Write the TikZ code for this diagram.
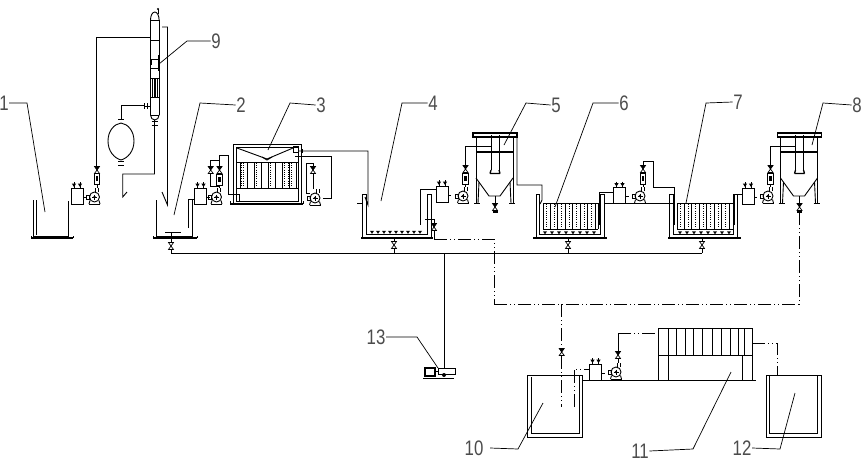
\documentclass[tikz,border=0pt]{standalone}
\usepackage{fontspec}
\setmainfont{Liberation Sans}
\begin{document}
\begin{tikzpicture}[x=1pt,y=-1pt,line width=0.9pt,line join=miter,
  lab/.style={font=\fontsize{21}{21}\selectfont,inner sep=0.5pt,xscale=0.8,text=black!70},
  lead/.style={line width=0.7pt},
  dd/.style={line width=0.8pt,dash pattern=on 13pt off 3pt on 1pt off 3pt on 1pt off 3pt},
  dotsv/.style={line width=1pt,dash pattern=on 1pt off 1.2pt},
  valvep/.pic={\draw[line width=0.7pt,fill=white] (-2.5,-3.5)--(2.5,-3.5)--(-2.5,3.5)--(2.5,3.5)--cycle;},
  valvef/.pic={\draw[line width=0.7pt,fill=white] (-2.5,-3.5)--(2.5,-3.5)--(-2.5,3.5)--(2.5,3.5)--cycle;
     \fill (-2.5,-3.5)--(2.5,-3.5)--(0,0)--cycle;},
  pumpp/.pic={\draw (0,0) circle (5);
     \draw[line width=0.6pt] (-2.5,0)--(2.5,0) (0,-2.5)--(0,2.5);
     \fill (0,0) circle (1.3);
     \draw (-8,-2) rectangle (-5,2);
     \draw (-4.5,3.5)--(-5.5,7) (4.5,3.5)--(5.5,7);
     \draw[line width=1.3pt] (-5.5,7.3)--(5.5,7.3);
     \draw (1,-5)--(1,-9) (4,-5)--(4,-9);},
  boxp/.pic={\draw (-6,-8) rectangle (6,8);
     \foreach \q in {-3,3}{\draw (\q,-14)--(\q,-8);
       \fill (\q-2.2,-12.5)--(\q+2.2,-12.5)--(\q,-9)--cycle;}
     \draw (6,1)--(9,1);},
  fmp/.pic={\draw (-2.7,-5.5) rectangle (2.7,5.5);
     \fill (-1.2,-2.5) rectangle (1.2,2);},
  nozzle/.pic={\fill (-2,-1.2)--(2,-1.2)--(0,1.8)--cycle;},
  clarp/.pic={
     \draw[line width=1.2pt] (-22,-37) rectangle (22,-33);
     \draw (-19,-33)--(-19,33) (18,-33)--(18,33);
     \draw[line width=1.1pt] (-19,-18)--(18,-18);
     \draw (-4,-35)--(-4,0) (4,-35)--(4,0);
     \draw[line width=1.3pt] (-5,3.5)--(5,3.5) (-4,0)--(-5,3.5) (4,0)--(5,3.5);
     \draw (-19,8)--(-6,26)--(5,26)--(18,8);
     \draw (-16,12)--(-17,33) (15,12)--(16,33);
     \draw (-21,33)--(-15,33) (14,33)--(20,33);
     \draw (0,26)--(0,33);
     \pic at (0,37) {valvef};
     \draw[line width=1.2pt] (-2.5,42)--(2.5,42);}
]
\useasboundingbox (0,0) rectangle (864,464);
\fill[white] (0,0) rectangle (864,464);

% ---- tank 1
\draw (33,200)--(33,236.5)--(68,236.5)--(68,201);
\draw (36,200)--(36,235);
\draw[line width=1.2pt] (31,238)--(73,238);
\draw (31,236)--(31,238) (73,236)--(73,238);
\pic at (77,196) {boxp};
\pic at (94.5,197) {pumpp};
\pic at (97,178.5) {fmp};
\pic at (97,170) {valvef};
\draw (96.7,167)--(96.7,37)--(150.5,37);
\draw (97,184)--(97,188);

% ---- column 9
\draw (150.5,20) arc (180:360:4.3 and 8);
\draw (150.5,20)--(150.5,115) (159,20)--(159,115);
\draw (150.5,20)--(159,20);
\draw (150.5,115) arc (180:0:4.3 and 5);
\foreach \y in {40,59,68,78,97,115}{\draw (150.5,\y)--(159,\y);}
\foreach \x in {152.3,154,155.7,157.4}{\draw[line width=0.6pt] (\x,78)--(\x,97);}
\draw[line width=1.3pt] (151,60)--(151,65) (158.7,55)--(158.7,71);
\draw (158,14)--(158,9);
\fill (158,9) circle (1.2);
\draw (162,27)--(167.5,27)--(167.5,205)--(162,192);
\draw[line width=1pt] (151.5,121)--(157.5,121) (151.5,125)--(157.5,125);
\draw (154.5,125)--(154.5,174)--(122.7,174)--(122.7,197)--(127,192);
\draw (154.5,120)--(154.5,125);
\draw (108,141) .. controls (108,131) and (114,124) .. (121,123)
      .. controls (128,124) and (134,131) .. (134,141)
      .. controls (134,151) and (128,158) .. (121,160)
      .. controls (114,158) and (108,151) .. (108,141) -- cycle;
\draw[line width=1pt] (118,119)--(124,119) (118,161)--(124,161) (118,165)--(124,165);
\draw (121.7,119)--(121.7,105)--(144,105);
\draw[line width=1pt] (144,103)--(144,109) (147,103)--(147,109);
\draw (144,106)--(150.5,106);

% ---- tank 2
\draw (156.7,200)--(156.7,236)--(192.7,236)--(192.7,199);
\draw[line width=1.2pt] (153,238)--(197,238);
\draw (153,236)--(153,238) (197,236)--(197,238);
\draw (188,228)--(188,199)--(194,199);
\draw (165,232)--(181,232) (171,232)--(171,243);
\pic at (171,246) {valvep};
\draw (171,250)--(171,253)--(702,253);
\pic at (200.5,196) {boxp};
\pic at (216.5,197) {pumpp};
\pic at (219.5,179.5) {fmp};
\pic at (219.5,170) {valvef};
\pic at (210.7,170) {valvef};
\draw (219.5,173)--(219.5,174) (219.5,185)--(219.5,188);
\draw (219.5,167)--(219.5,155) (210.7,167)--(210.7,160)--(219.5,160);
\draw (210.7,173)--(210.7,186)--(219.5,186);
\draw (219.5,155)--(228,155)--(228,194)--(239,194)--(239,202);

% ---- tank 3
\draw (233,203)--(233,144)--(301,144)--(301,203);
\draw (236,201)--(236,147)--(298,147)--(298,201)--cycle;
\draw[line width=1.2pt] (230,204)--(303,204);
\draw (230,201)--(230,204) (303,201)--(303,204);
\draw[line width=1pt] (237,162)--(298,162) (237,188)--(298,188);
\foreach \x in {240,247,...,296}{\draw[line width=0.6pt] (\x,162)--(\x,188);}
\foreach \x in {241.5,243.5,254.5,256.5,268.5,270.5,282.5,284.5,288.5,291.5}{\draw[dotsv] (\x,163)--(\x,187);}
\draw (237,148)--(267,159)--(293,148);
\draw (262,157)--(267,160)--(272,157);
\draw (293,146.5) rectangle (298,152);
\draw (298,151)--(368,151)--(368,205)--(365,197);
\draw (302,149)--(302,153);
\draw (295,156)--(331,156)--(331,198)--(323,198);
\pic at (315,198) {pumpp};
\pic at (313,170) {valvef};
\draw (313,173)--(313,189) (313,167)--(313,163)--(306,163)--(306,193)--(310,193);

% ---- tank 4
\draw (362,238)--(362,194)--(366,194)--(366,234)--(427,234)--(427,194)--(431,194)--(431,238);
\draw[line width=1.2pt] (361,238)--(433,238);
\draw (357,203)--(362,203);
\foreach \x in {372,378,...,420}{\pic at (\x,232) {nozzle};}
\draw (420,225)--(420,189)--(436,189);
\draw (425,219)--(434,219)--(434,224);
\pic at (434,227) {valvef};
\draw (434,230)--(434,239);
\pic at (394,245) {valvep};
\draw (394,238)--(394,241) (394,249)--(394,253);
\pic at (442,194) {boxp};
\pic at (463,196) {pumpp};
\pic at (465.5,178.5) {fmp};
\pic at (465.5,169) {valvef};
\draw (465.5,166)--(465.5,146)--(491,146) (465.5,172)--(465.5,173) (465.5,184)--(465.5,187);

% ---- clarifier 5
\pic at (495,170) {clarp};
\draw (517,137)--(517,185)--(542,185)--(542,200)--(540,204);

% ---- tank 6
\draw (536,238)--(536,194)--(539,194)--(539,234)--(600,234)--(600,194)--(604,194)--(604,238);
\draw[line width=1.2pt] (533,238)--(607,238);
\draw[line width=1pt] (543,203)--(598,203) (543,229)--(598,229);
\draw (543,203)--(543,229) (598,203)--(598,229);
\foreach \x in {550,557.5,...,595}{\draw[line width=0.6pt] (\x,203)--(\x,229);}
\foreach \x in {546.5,554,561.5,569,576.5,584,591.5}{\draw[dotsv] (\x,204)--(\x,228);}
\foreach \x in {545,552,...,598}{\pic at (\x,232.5) {nozzle};}
\draw (599,225)--(599,192)--(613,192);
\pic at (568,245) {valvep};
\draw (568,238)--(568,241) (568,249)--(568,253);
\pic at (619.5,195.5) {boxp};
\pic at (640,196) {pumpp};
\pic at (643,178.5) {fmp};
\pic at (643,169) {valvef};
\draw (604,203)--(674,203);
\draw (643,166)--(643,161)--(653,161)--(653,187)--(674,187)--(674,225);
\draw (643,172)--(643,173) (643,184)--(643,187);

% ---- tank 7
\draw (669,238)--(669,194)--(673,194)--(673,234)--(733,234)--(733,194)--(737,194)--(737,238);
\draw[line width=1.2pt] (668,238)--(741,238);
\draw[line width=1pt] (677,203)--(733,203) (677,229)--(733,229);
\draw (677,203)--(677,229);
\foreach \x in {684,691.5,...,730}{\draw[line width=0.6pt] (\x,203)--(\x,229);}
\foreach \x in {680.5,688,695.5,703,710.5,718,725.5}{\draw[dotsv] (\x,204)--(\x,228);}
\foreach \x in {680,687,...,731}{\pic at (\x,232.5) {nozzle};}
\draw (734,194)--(742,194) (734,194)--(734,225);
\pic at (702,245) {valvep};
\draw (702,238)--(702,241) (702,249)--(702,253);
\pic at (748,196) {boxp};
\pic at (768,196) {pumpp};
\pic at (770.5,178.5) {fmp};
\pic at (770.5,169) {valvef};
\draw (770.7,166)--(770.7,146)--(795.5,146) (770.7,172)--(770.7,173) (770.7,184)--(770.7,187);

% ---- clarifier 8
\pic at (799.5,170) {clarp};

% ---- dash-dot sludge lines
\draw[dd] (434,239)--(494,239)--(494,304);
\draw[dd] (494,304)--(799,304)--(799,213);
\draw[dd] (561.7,304)--(561.7,348);
\pic at (561.7,352) {valvef};
\draw[dd] (561.7,356)--(561.7,407);
\draw[dd] (574,407)--(574,369)--(589,369);
\draw[dd] (618,333)--(658,333);
\draw[dd] (752,343)--(777,343)--(777,375);

% ---- main header and blower 13
\draw (444,253)--(444,368);
\draw (438,368) rectangle (455,374);
\draw[line width=1.3pt] (425,368) rectangle (435,376);
\draw (435,371)--(438,371);
\draw[line width=1.5pt] (423,378.5)--(454,378.5);
\fill (444,375) circle (2);

% ---- tank 10, pump set, press, tank 12
\draw (527,375) rectangle (582,437);
\draw (531,377)--(531,433)--(579,433)--(579,375);
\pic at (595.5,372) {boxp};
\pic at (616,372) {pumpp};
\pic at (618,355) {valvef};
\draw (618,351.5)--(618,333) (618,358.5)--(618,363);
\draw (583,380)--(756,380);
\draw (658,328) rectangle (752,355);
\foreach \x in {668,676,685,693,702,712,721,730,738,744}{\draw (\x,328)--(\x,355);}
\draw (658,355)--(658,380) (668,355)--(668,380) (742,355)--(742,380) (752,355)--(752,380);
\draw (766,375) rectangle (821,437);
\draw (769,375)--(769,433)--(817,433)--(817,375);

% ---- labels and leaders
\node[lab] (l1) at (4,103) {1};
\node[lab] (l2) at (241,105) {2};
\node[lab] (l3) at (321,105) {3};
\node[lab] (l4) at (433,103) {4};
\node[lab] (l5) at (556,105) {5};
\node[lab] (l6) at (624,103) {6};
\node[lab] (l7) at (738,102) {7};
\node[lab] (l8) at (857,105) {8};
\node[lab] (l9) at (216,41) {9};
\node[lab] (l10) at (474,448) {10};
\node[lab] (l11) at (640,451) {11};
\node[lab] (l12) at (742,448) {12};
\node[lab] (l13) at (376,337) {13};
\draw[lead] (9,103)--(27,103)--(45,212);
\draw[lead] (l2.west)--(200,103)--(174,215);
\draw[lead] (l3.west)--(290,103)--(268,150);
\draw[lead] (l4.west)--(402,103)--(381,201);
\draw[lead] (l5.west)--(526,103)--(504,145);
\draw[lead] (l6.west)--(593,103)--(555,207);
\draw[lead] (l7.west)--(706,103)--(686,203);
\draw[lead] (l8.west)--(823,103)--(812,145);
\draw[lead] (l9.west)--(187,41)--(159,64);
\draw[lead] ([xshift=6pt]l10.east)--(518,449)--(543,403);
\draw[lead] (l11.east)--(693,449)--(731,372);
\draw[lead] (l12.east)--(780,449)--(795,393);
\draw[lead] (l13.east)--(417,337)--(438,368);
\end{tikzpicture}
\end{document}
